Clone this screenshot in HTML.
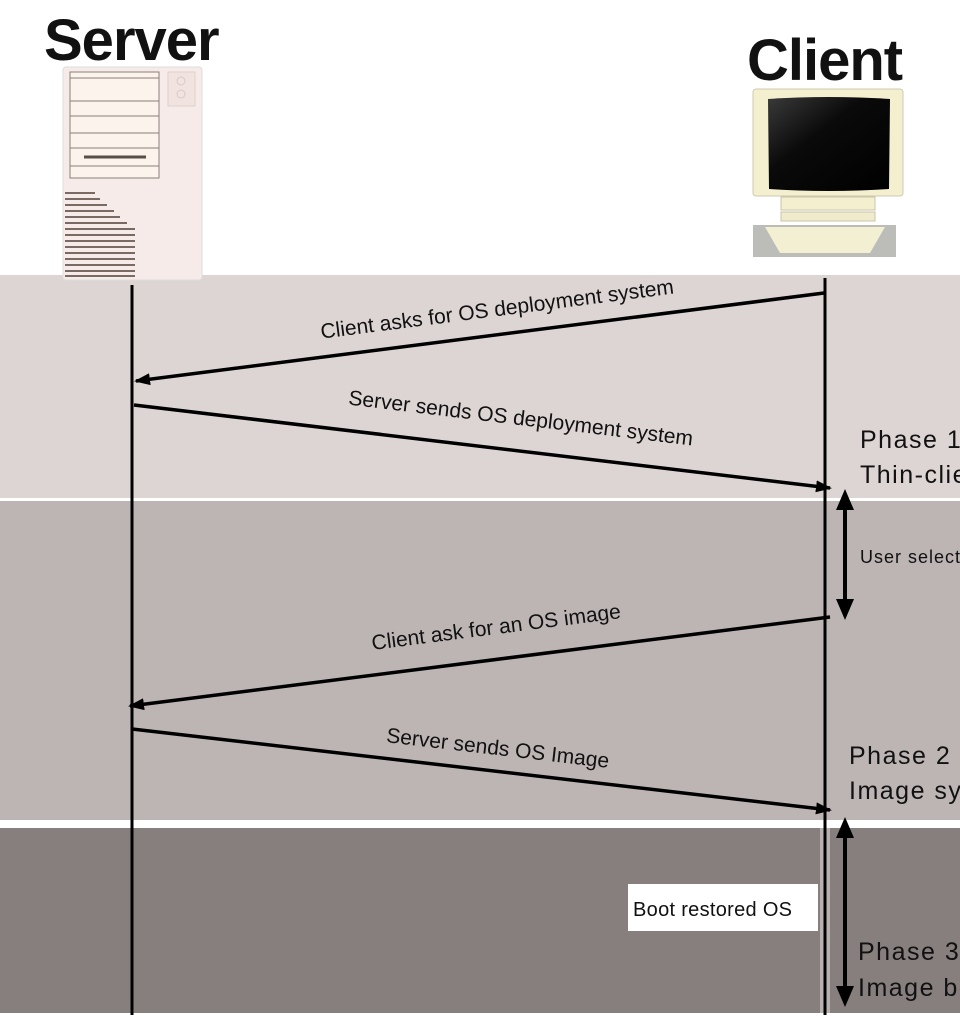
<!DOCTYPE html>
<html><head><style>
html,body{margin:0;padding:0;background:#fff;}
svg{display:block;}
text{font-family:"Liberation Sans","DejaVu Sans",sans-serif;fill:#111;}
</style></head><body>
<svg width="960" height="1019" viewBox="0 0 960 1019" xmlns="http://www.w3.org/2000/svg">
<defs>
<marker id="ah2" markerWidth="16" markerHeight="16" refX="14" refY="8" orient="auto" markerUnits="userSpaceOnUse" viewBox="0 0 16 16">
<path d="M0,2 L16,8 L0,14 z" fill="#000"/></marker>
<linearGradient id="scr" x1="0" y1="0" x2="1" y2="1"><stop offset="0" stop-color="#3a3a3a"/><stop offset="0.4" stop-color="#0a0a0a"/><stop offset="1" stop-color="#000"/></linearGradient>
</defs>
<rect x="0" y="275" width="960" height="223" fill="#ddd5d4"/>
<rect x="0" y="501" width="960" height="319" fill="#bdb5b4"/>
<rect x="0" y="828" width="960" height="185" fill="#877f7e"/>
<rect x="820" y="828" width="10" height="185" fill="#b8b0af"/>

<text x="44" y="60" font-size="58" font-weight="bold" letter-spacing="-1">Server</text>
<text x="747" y="80" font-size="58" font-weight="bold" letter-spacing="-1">Client</text>

<rect x="63" y="67" width="139" height="213" rx="3" fill="#f6ebe9" stroke="#ddd" stroke-width="1"/>
<rect x="70" y="72" width="89" height="106" fill="#fbf3ec" stroke="#8a7f78" stroke-width="1"/>
<g stroke="#8a7f78" stroke-width="1">
<line x1="70" y1="78" x2="159" y2="78"/><line x1="70" y1="101" x2="159" y2="101"/>
<line x1="70" y1="116" x2="159" y2="116"/><line x1="70" y1="133" x2="159" y2="133"/>
<line x1="70" y1="148" x2="159" y2="148"/><line x1="70" y1="166" x2="159" y2="166"/></g>
<line x1="84" y1="157" x2="146" y2="157" stroke="#5a4f48" stroke-width="3"/>
<rect x="168" y="72" width="27" height="34" fill="#f1e4e0" stroke="#e0d2cc"/>
<circle cx="181" cy="81" r="4" fill="none" stroke="#dcc8c0"/><circle cx="181" cy="94" r="4" fill="none" stroke="#dcc8c0"/>
<g stroke="#7a6a64" stroke-width="2">
<line x1="65" y1="193" x2="95" y2="193"/><line x1="65" y1="199" x2="100" y2="199"/>
<line x1="65" y1="205" x2="107" y2="205"/><line x1="65" y1="211" x2="114" y2="211"/>
<line x1="65" y1="217" x2="120" y2="217"/><line x1="65" y1="223" x2="127" y2="223"/>
<line x1="65" y1="229" x2="135" y2="229"/><line x1="65" y1="235" x2="135" y2="235"/>
<line x1="65" y1="241" x2="135" y2="241"/><line x1="65" y1="247" x2="135" y2="247"/>
<line x1="65" y1="253" x2="135" y2="253"/><line x1="65" y1="259" x2="135" y2="259"/>
<line x1="65" y1="265" x2="135" y2="265"/><line x1="65" y1="271" x2="135" y2="271"/>
<line x1="65" y1="276" x2="135" y2="276"/></g>

<rect x="753" y="89" width="150" height="107" rx="3" fill="#f3efcf" stroke="#cfcab0"/>
<path d="M768,99 Q828,95 890,99 L889,189 Q828,193 769,189 Z" fill="url(#scr)"/>
<rect x="781" y="197" width="94" height="13" fill="#f3efcf" stroke="#c9c4a8"/>
<rect x="781" y="212" width="94" height="9" fill="#efebcc" stroke="#c9c4a8"/>
<path d="M753,225 L896,225 L896,257 L753,257 Z" fill="#bcbcb8"/>
<path d="M765,227 L885,227 L870,253 L780,253 Z" fill="#f3efd2"/>

<line x1="132" y1="285" x2="132" y2="1015" stroke="#000" stroke-width="3"/>
<line x1="825" y1="278" x2="825" y2="1015" stroke="#000" stroke-width="3"/>

<line x1="824" y1="293" x2="136" y2="381" stroke="#000" stroke-width="3.5" marker-end="url(#ah2)"/>
<line x1="134" y1="405" x2="830" y2="488" stroke="#000" stroke-width="3.5" marker-end="url(#ah2)"/>
<line x1="830" y1="617" x2="130" y2="706" stroke="#000" stroke-width="3.5" marker-end="url(#ah2)"/>
<line x1="132" y1="729" x2="830" y2="810" stroke="#000" stroke-width="3.5" marker-end="url(#ah2)"/>

<text font-size="21" text-anchor="middle" transform="translate(498,316) rotate(-7.3)">Client asks for OS deployment system</text>
<text font-size="21" text-anchor="middle" transform="translate(520,425) rotate(6.8)">Server sends OS deployment system</text>
<text font-size="21" text-anchor="middle" transform="translate(497,634) rotate(-7.3)">Client ask for an OS image</text>
<text font-size="21" text-anchor="middle" transform="translate(497,755) rotate(6.6)">Server sends OS Image</text>

<line x1="845" y1="508" x2="845" y2="602" stroke="#000" stroke-width="4"/>
<path d="M845,489 L836,510 L854,510 Z M845,620 L836,599 L854,599 Z" fill="#000"/>
<line x1="845" y1="836" x2="845" y2="988" stroke="#000" stroke-width="4"/>
<path d="M845,817 L836,838 L854,838 Z M845,1007 L836,986 L854,986 Z" fill="#000"/>

<text x="860" y="448" font-size="25" letter-spacing="1.5">Phase 1</text>
<text x="860" y="483" font-size="25" letter-spacing="1.5">Thin-client</text>
<text x="860" y="563" font-size="18" letter-spacing="1">User selects</text>
<text x="849" y="764" font-size="25" letter-spacing="1.5">Phase 2</text>
<text x="849" y="799" font-size="25" letter-spacing="1.5">Image sync</text>
<text x="858" y="960" font-size="25" letter-spacing="1.5">Phase 3</text>
<text x="858" y="996" font-size="25" letter-spacing="1.5">Image boot</text>

<rect x="628" y="884" width="190" height="47" fill="#fff"/>
<text x="633" y="916" font-size="20" letter-spacing="0.3">Boot restored OS</text>
</svg>
</body></html>
